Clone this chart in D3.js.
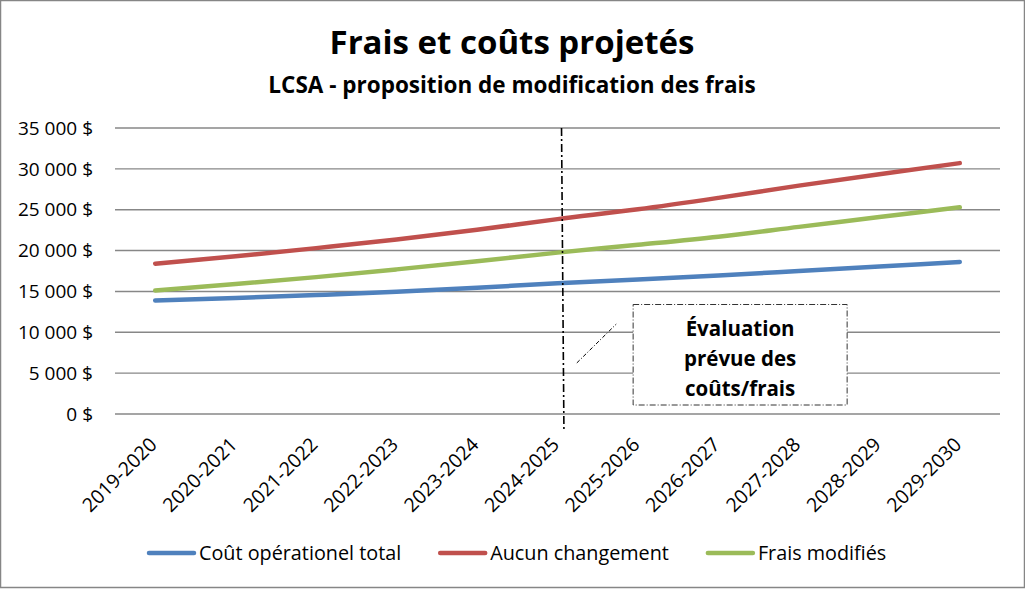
<!DOCTYPE html>
<html>
<head>
<meta charset="utf-8">
<script src="https://cdn.jsdelivr.net/npm/d3@7"></script>
<style>
  body { margin: 0; background: #fff; }
  text { font-family: "Open Sans", Lato, sans-serif; fill: #000; }
</style>
</head>
<body>
<div id="chart"></div>
<script>
// DATA
const categories = ["2019-2020", "2020-2021", "2021-2022", "2022-2023", "2023-2024", "2024-2025",
    "2025-2026", "2026-2027", "2027-2028", "2028-2029", "2029-2030"];
const coutOperationel = [13900, 14200, 14550, 14950, 15450, 16000, 16450, 16950, 17500, 18050, 18600];
const aucunChangement = [18400, 19300, 20300, 21350, 22550, 23850, 25050, 26450, 27950, 29350, 30700];
const fraisModifies = [15100, 15900, 16750, 17700, 18700, 19750, 20700, 21700, 22900, 24100, 25300];
const yTicks = [0, 5000, 10000, 15000, 20000, 25000, 30000, 35000];
const seriesNames = ["Coût opérationel total", "Aucun changement", "Frais modifiés"];
const seriesColors = ["#4F81BD", "#C0504D", "#9BBB59"];
const annotationLines = ["Évaluation", "prévue des", "coûts/frais"];

// SETUP
const W = 1025, H = 589;
const margin = { top: 128, right: 25, bottom: 175, left: 115 };
const width = W - margin.left - margin.right;
const height = H - margin.top - margin.bottom;

const svgRoot = d3.select("#chart")
    .append("svg")
    .attr("width", W)
    .attr("height", H);

// outer border
svgRoot.append("rect")
    .attr("x", 0.5).attr("y", 0.5)
    .attr("width", W - 1).attr("height", H - 2)
    .attr("fill", "#fff")
    .attr("stroke", "#868686")
    .attr("stroke-width", 1.5);

const svg = svgRoot.append("g")
    .attr("transform", `translate(${margin.left},${margin.top})`);

// SCALES
const x = d3.scalePoint()
    .domain(categories)
    .range([0, width])
    .padding(0.5);

const xi = d3.scaleLinear()
    .domain([0, categories.length - 1])
    .range([x(categories[0]), x(categories[categories.length - 1])]);

const y = d3.scaleLinear()
    .domain([0, 35000])
    .range([height, 0]);

const fmt = v => d3.format(",")(v).replace(/,/g, "\u00a0") + " $";

// GRIDLINES
svg.selectAll(".grid")
    .data(yTicks)
    .enter()
    .append("line")
    .attr("x1", 0).attr("x2", width)
    .attr("y1", d => y(d)).attr("y2", d => y(d))
    .attr("stroke", "#878787")
    .attr("stroke-width", 1.4);

// Y LABELS
svg.selectAll(".ylab")
    .data(yTicks)
    .enter()
    .append("text")
    .attr("x", -22)
    .attr("y", d => y(d))
    .attr("dy", "0.35em")
    .attr("text-anchor", "end")
    .style("font-size", "19px")
    .text(fmt);

// X LABELS
svg.selectAll(".xlab")
    .data(categories)
    .enter()
    .append("text")
    .attr("transform", d => `translate(${x(d) - 2},${height + 27}) rotate(-45)`)
    .attr("dy", "0.35em")
    .attr("text-anchor", "end")
    .style("font-size", "19.5px")
    .text(d => d);

// LINES
const dataArray = [coutOperationel, aucunChangement, fraisModifies].map((vals, i) => ({
    name: seriesNames[i],
    color: seriesColors[i],
    values: vals.map((v, j) => ({ cat: categories[j], value: v }))
}));

const line = d3.line()
    .x(d => x(d.cat))
    .y(d => y(d.value))
    .curve(d3.curveMonotoneX);

svg.selectAll(".series")
    .data(dataArray)
    .enter()
    .append("path")
    .attr("d", d => line(d.values))
    .attr("fill", "none")
    .attr("stroke", d => d.color)
    .attr("stroke-width", 4.5)
    .attr("stroke-linecap", "round");

// VERTICAL MARKER (dash-dot)
svg.append("line")
    .attr("x1", xi(5.05)).attr("x2", xi(5.08))
    .attr("y1", y(35000)).attr("y2", y(-2100))
    .attr("stroke", "#000")
    .attr("stroke-width", 1.6)
    .attr("stroke-dasharray", "8,3,2,3");

// ANNOTATION connector
svg.append("line")
    .attr("x1", xi(5.24)).attr("y1", y(6250))
    .attr("x2", xi(5.73)).attr("y2", y(11000))
    .attr("stroke", "#000")
    .attr("stroke-width", 1)
    .attr("stroke-dasharray", "4,2,1,2");

// ANNOTATION box
const bx0 = xi(5.94), bx1 = xi(8.60), by0 = y(13400), by1 = y(1100);
svg.append("rect")
    .attr("x", bx0).attr("y", by0)
    .attr("width", bx1 - bx0).attr("height", by1 - by0)
    .attr("fill", "#fff")
    .attr("stroke", "#333")
    .attr("stroke-width", 1)
    .attr("stroke-dasharray", "6,2,1,2");

svg.selectAll(".ann")
    .data(annotationLines)
    .enter()
    .append("text")
    .attr("x", (bx0 + bx1) / 2)
    .attr("y", (d, i) => by0 + 24 + i * 30)
    .attr("dy", "0.35em")
    .attr("text-anchor", "middle")
    .style("font-size", "20.5px")
    .style("font-weight", "bold")
    .text(d => d);

// TITLES
svgRoot.append("text")
    .attr("x", 512)
    .attr("y", 54)
    .attr("text-anchor", "middle")
    .style("font-size", "33px")
    .style("font-weight", "bold")
    .text("Frais et coûts projetés");

svgRoot.append("text")
    .attr("x", 512)
    .attr("y", 93)
    .attr("text-anchor", "middle")
    .style("font-size", "22.5px")
    .style("font-weight", "bold")
    .text("LCSA - proposition de modification des frais");

// LEGEND
const legend = svgRoot.append("g").attr("transform", "translate(0,553)");
let lx = 149;
dataArray.forEach(d => {
    const g = legend.append("g").attr("transform", `translate(${lx},0)`);
    g.append("line")
        .attr("x1", 0).attr("x2", 45)
        .attr("y1", 0).attr("y2", 0)
        .attr("stroke", d.color)
        .attr("stroke-width", 4.5)
        .attr("stroke-linecap", "round");
    const t = g.append("text")
        .attr("x", 50)
        .attr("dy", "0.35em")
        .style("font-size", "19.8px")
        .text(d.name);
    lx += 50 + t.node().getComputedTextLength() + 39;
});
</script>
</body>
</html>
